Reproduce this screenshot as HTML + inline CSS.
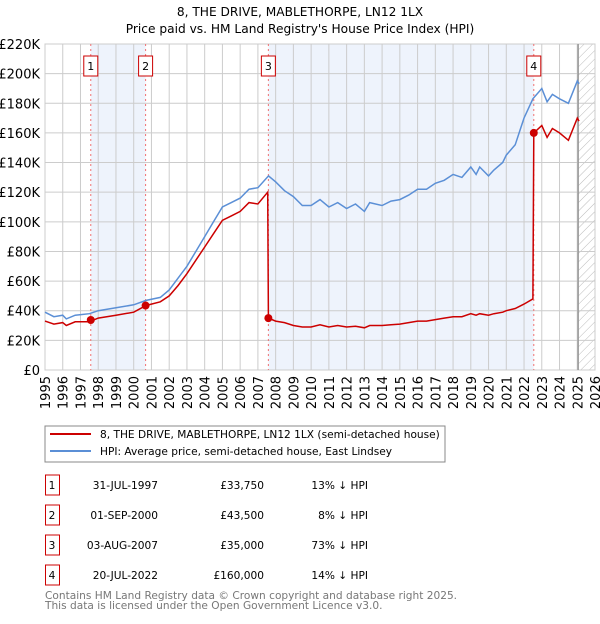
<!DOCTYPE html>
<html><head><meta charset="utf-8"><style>
body{margin:0;background:#fff;font-family:"DejaVu Sans","Liberation Sans",sans-serif;}
svg text{font-family:"DejaVu Sans","Liberation Sans",sans-serif;}
</style></head><body>
<svg id="c" width="600" height="620" xmlns="http://www.w3.org/2000/svg">
<defs><pattern id="hatch" width="6" height="6" patternUnits="userSpaceOnUse" patternTransform="rotate(45)"><line x1="0" y1="0" x2="0" y2="6" stroke="#bbb" stroke-width="1"/></pattern></defs>
<text x="300" y="16" text-anchor="middle" font-size="12.2">8, THE DRIVE, MABLETHORPE, LN12 1LX</text>
<text x="300" y="33" text-anchor="middle" font-size="12.2">Price paid vs. HM Land Registry's House Price Index (HPI)</text>
<g id="plot"></g>
<rect x="45" y="426" width="400" height="36" fill="#fff" stroke="#888"/>
<line x1="50" y1="434" x2="91" y2="434" stroke="#cc0000" stroke-width="2"/>
<text x="100" y="438" font-size="10.6">8, THE DRIVE, MABLETHORPE, LN12 1LX (semi-detached house)</text>
<line x1="50" y1="451" x2="91" y2="451" stroke="#5b8fd6" stroke-width="2"/>
<text x="100" y="455" font-size="10.6">HPI: Average price, semi-detached house, East Lindsey</text>
<g id="table" font-size="10.6"></g>
<text x="45" y="599" font-size="10.6" fill="#777">Contains HM Land Registry data © Crown copyright and database right 2025.</text>
<text x="45" y="609" font-size="10.6" fill="#777">This data is licensed under the Open Government Licence v3.0.</text>
</svg>
<script>
const yTicks=[0,20,40,60,80,100,120,140,160,180,200,220];
const xYears=[1995,1996,1997,1998,1999,2000,2001,2002,2003,2004,2005,2006,2007,2008,2009,2010,2011,2012,2013,2014,2015,2016,2017,2018,2019,2020,2021,2022,2023,2024,2025,2026];
const hpiDates=[1995,1995.5,1996,1996.2,1996.7,1997.5,1998,1999,2000,2000.7,2001.5,2002,2002.5,2003,2003.5,2004,2004.5,2005,2005.5,2006,2006.5,2007,2007.6,2008,2008.5,2009,2009.5,2010,2010.5,2011,2011.5,2012,2012.5,2013,2013.3,2014,2014.5,2015,2015.5,2016,2016.5,2017,2017.5,2018,2018.5,2019,2019.3,2019.5,2020,2020.3,2020.8,2021,2021.5,2022,2022.5,2023,2023.3,2023.6,2024,2024.5,2025,2025.1];
const hpiValues=[39,36,37,34.5,37,38,40,42,44,47,49,54,62,70,80,90,100,110,113,116,122,123,131,127,121,117,111,111,115,110,113,109,112,107,113,111,114,115,118,122,122,126,128,132,130,137,132,137,131,135,140,145,152,170,183,190,181,186,183,180,195,193];
const propDates=[1995,1995.5,1996,1996.2,1996.7,1997.5,1998,1999,2000,2000.7,2001.5,2002,2002.5,2003,2003.5,2004,2004.5,2005,2005.5,2006,2006.5,2007,2007.55,2007.59,2008,2008.5,2009,2009.5,2010,2010.5,2011,2011.5,2012,2012.5,2013,2013.3,2014,2014.5,2015,2015.5,2016,2016.5,2017,2017.5,2018,2018.5,2019,2019.3,2019.5,2020,2020.3,2020.8,2021,2021.5,2022,2022.5,2022.55,2023,2023.3,2023.6,2024,2024.5,2025,2025.1];
const propValues=[33,31,32,30,32.5,32.5,35,37,39,43.5,46,50,57,65,74,83,92,101,104,107,113,112,120,35,33,32,30,29,29,30.5,29,30,29,29.5,28.5,30,30,30.5,31,32,33,33,34,35,36,36,38,37,38,37,38,39,40,41.5,44.5,48,160,165,157,163,160,155,170,168];
const saleLabels=["1","2","3","4"];
const saleDates=[1997.58,2000.67,2007.59,2022.55];
const salePrices=[33.75,43.5,35,160];
const saleDateText=["31-JUL-1997","01-SEP-2000","03-AUG-2007","20-JUL-2022"];
const salePriceText=["£33,750","£43,500","£35,000","£160,000"];
const saleHpiText=["13% ↓ HPI","8% ↓ HPI","73% ↓ HPI","14% ↓ HPI"];
const dataEnd=2025.05;

const X0=45,X1=595,Y0=370,Y1=44;
const xs=y=>X0+(y-1995)/(2026-1995)*(X1-X0);
const ys=v=>Y0-v/220*(Y0-Y1);
const NS="http://www.w3.org/2000/svg";
const plot=document.getElementById('plot');
function mk(tag,attrs,parent){const e=document.createElementNS(NS,tag);for(const k in attrs)e.setAttribute(k,attrs[k]);(parent||plot).appendChild(e);return e;}

let r;
r=mk('rect',{x:xs(saleDates[0]),y:Y1,width:xs(saleDates[1])-xs(saleDates[0]),height:Y0-Y1,fill:'#eef3fc'});


r=mk('rect',{x:xs(saleDates[2]),y:Y1,width:xs(saleDates[3])-xs(saleDates[2]),height:Y0-Y1,fill:'#eef3fc'});


r=mk('rect',{x:xs(dataEnd),y:Y1,width:X1-xs(dataEnd),height:Y0-Y1,fill:'url(#hatch)'});



yTicks.forEach(v=>{
 const l=mk('line',{x1:X0,x2:X1,y1:ys(v),y2:ys(v),stroke:'#ccc'});
 
 
 const t=mk('text',{x:40,y:ys(v)+5,'text-anchor':'end','font-size':13});
 
 
 t.textContent=v===0?'£0':'£'+v+'K';
});
xYears.forEach(y=>{
 const l=mk('line',{x1:xs(y),x2:xs(y),y1:Y1,y2:Y0,stroke:'#ccc'});
 
 
 const t=mk('text',{x:0,y:0,'text-anchor':'end','font-size':13,transform:`translate(${xs(y)+5},376) rotate(-90)`});
 
 
 t.textContent=y;
});
r=mk('rect',{x:X0,y:Y1,width:X1-X0,height:Y0-Y1,fill:'none',stroke:'#ccc'});


r=mk('line',{x1:xs(dataEnd),x2:xs(dataEnd),y1:Y1,y2:Y0,stroke:'#999','stroke-width':1.5});



saleDates.forEach((d,i)=>{
 const l=mk('line',{x1:xs(d),x2:xs(d),y1:Y1,y2:Y0,stroke:'#f07070','stroke-dasharray':'2,3'});
 
 
});

let p=mk('path',{d:hpiDates.map((d,i)=>(i?'L':'M')+xs(d).toFixed(1)+','+ys(hpiValues[i]).toFixed(1)).join(''),fill:'none',stroke:'#5b8fd6','stroke-width':1.5});


p=mk('path',{d:propDates.map((d,i)=>(i?'L':'M')+xs(d).toFixed(1)+','+ys(propValues[i]).toFixed(1)).join(''),fill:'none',stroke:'#cc0000','stroke-width':1.5});



saleDates.forEach((d,i)=>{
 const c=mk('circle',{cx:xs(d),cy:ys(salePrices[i]),r:4,fill:'#cc0000'});
 
 
 const b=mk('rect',{x:xs(d)-7,y:56,width:14,height:20,fill:'#fff',stroke:'#cc0000'});
 
 
 const t=mk('text',{x:xs(d),y:70,'text-anchor':'middle','font-size':11});
 
 
 t.textContent=saleLabels[i];
});

const tbl=document.getElementById('table');
saleLabels.forEach((s,i)=>{
 const y=483+i*30;
 const b=mk('rect',{x:45.5,y:y-8,width:14,height:20,fill:'#fff',stroke:'#cc0000'},tbl);
 
 
 let t=mk('text',{x:52,y:y+6,'text-anchor':'middle'},tbl);
 
 
 t.textContent=s;
 t=mk('text',{x:158,y:y+6,'text-anchor':'end'},tbl);
 
 
 t.textContent=saleDateText[i];
 t=mk('text',{x:264,y:y+6,'text-anchor':'end'},tbl);
 
 
 t.textContent=salePriceText[i];
 t=mk('text',{x:368,y:y+6,'text-anchor':'end'},tbl);
 
 
 t.textContent=saleHpiText[i];
});
</script>
</body></html>
